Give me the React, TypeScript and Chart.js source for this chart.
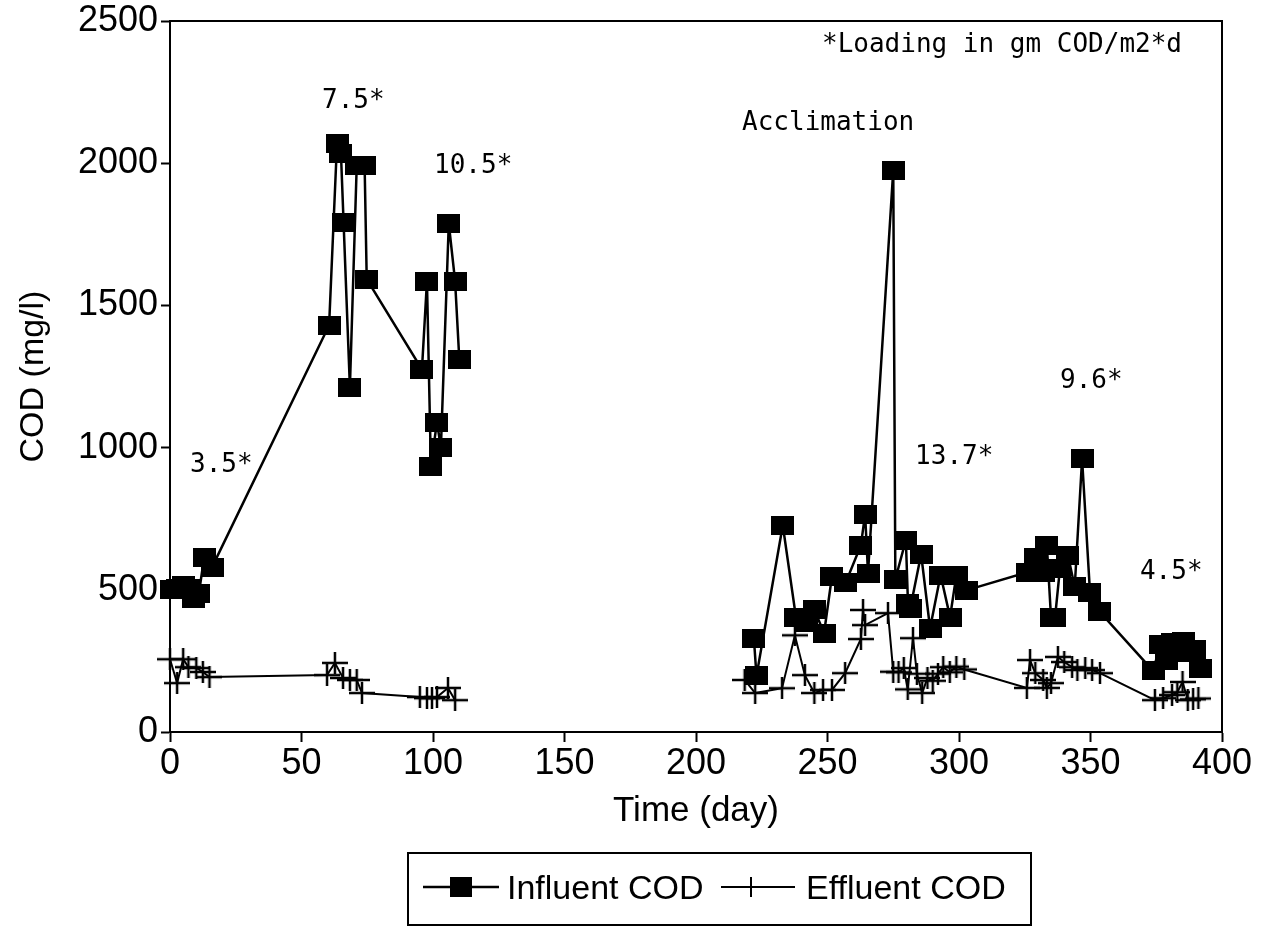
import React, { useEffect, useRef } from 'react';
import { Chart, registerables } from 'chart.js';

Chart.register(...registerables);

// Influent COD (mg/l) by operating day
const influentDays = [
  0.5, 3, 5, 7.5, 9, 11, 13, 16,
  60.5, 63.5, 65, 66, 68.4, 71, 74, 74.8,
  95.8, 97.7, 99.2, 101.5, 103, 106, 108.4, 110,
  222, 223, 233, 238, 242, 245, 248.7, 251.7, 257, 262.7, 264.3, 265.4,
  275, 275.8, 279.8, 280.6, 281.5, 285.6, 289, 293, 296.6, 299, 303,
  326, 329, 332, 333.4, 335, 336.5, 338.4, 341.4, 344, 346.8, 349.8, 353.6,
  373.8, 376.5, 379, 381, 383, 385.5, 387.5, 389.5, 392,
];
const influentCod = [
  500, 505, 515, 505, 470, 488, 615, 580,
  1430, 2070, 2034, 1792, 1212, 1992, 1992, 1592,
  1275, 1585, 935, 1090, 1000, 1788, 1585, 1311,
  330, 197, 727, 404, 386, 429, 348, 548, 527, 657, 766, 559,
  1975, 537, 675, 453, 436, 625, 365, 552, 404, 552, 499,
  562, 615, 562, 657, 401, 401, 576, 622, 510, 960, 492, 422,
  215, 306, 250, 315, 300, 318, 278, 290, 225,
];

// Effluent COD (mg/l) by operating day
const effluentDays = [
  0, 2.7, 5, 7, 10, 12.5, 15,
  59.7, 62.7, 65.8, 68.4, 71, 73,
  95, 97.7, 99.6, 101.5, 105.7, 108.4,
  218.5, 222.5, 232.7, 237.6, 241.4, 245, 248.3, 251.7, 256.7, 262.7, 263.5, 264.3,
  273, 275, 277, 279, 280.5, 282.5, 284, 286, 288, 290, 292, 294, 296.5, 299, 302,
  325.8, 327, 329, 332, 333.4, 335, 337.6, 340, 343, 345, 348, 350.6, 353.6,
  374.5, 377.6, 381, 383, 385, 387, 389, 391,
];
const effluentCod = [
  256, 172, 256, 228, 225, 211, 193,
  200, 243, 190, 183, 183, 137,
  123, 119, 119, 123, 155, 112,
  183, 137, 154, 340, 200, 137, 148, 148, 207, 327, 429, 376,
  418, 212, 210, 225, 150, 330, 205, 137, 190, 180, 205, 228, 210, 230, 220,
  155, 253, 207, 183, 155, 172, 264, 246, 228, 218, 225, 218, 207,
  112, 119, 130, 140, 176, 112, 115, 118,
];

// Organic loading notes, anchored at (day, COD) for the left edge of each text
const noteTexts = ['3.5*', '7.5*', '10.5*', 'Acclimation', '13.7*', '9.6*', '4.5*', '*Loading in gm COD/m2*d'];
const noteDays = [7.6, 57.8, 100.4, 217.5, 283.3, 338.4, 368.8, 247.9];
const noteCods = [938, 2217, 1989, 2140, 966, 1233, 562, 2414];

const seriesNames = ['Influent COD', 'Effluent COD'];
const axisTitles = { x: 'Time (day)', y: 'COD (mg/l)' };

// Sampling pauses longer than this (days) are left unconnected
const MAX_LINKED_GAP = 80;

const SANS = '"Liberation Sans", Arial, Helvetica, sans-serif';
const MONO = '"DejaVu Sans Mono", monospace';

function makeSquareMarker(): HTMLCanvasElement {
  const c = document.createElement('canvas');
  c.width = 23;
  c.height = 19;
  const ctx = c.getContext('2d')!;
  ctx.fillStyle = '#000';
  ctx.fillRect(0, 0, 23, 19);
  return c;
}

function makeCrossMarker(): HTMLCanvasElement {
  const c = document.createElement('canvas');
  c.width = 26;
  c.height = 22;
  const ctx = c.getContext('2d')!;
  ctx.strokeStyle = '#000';
  ctx.lineWidth = 2.5;
  ctx.beginPath();
  ctx.moveTo(0, 11);
  ctx.lineTo(26, 11);
  ctx.moveTo(13, 0);
  ctx.lineTo(13, 22);
  ctx.stroke();
  return c;
}

const gapSegment = {
  borderColor: (ctx: any) => (ctx.p1.parsed.x - ctx.p0.parsed.x > MAX_LINKED_GAP ? 'rgba(0,0,0,0)' : '#000'),
};

const framePlugin = {
  id: 'plotFrame',
  afterDraw(chart: any) {
    const { ctx, chartArea } = chart;
    ctx.save();
    ctx.strokeStyle = '#000';
    ctx.lineWidth = 2;
    ctx.strokeRect(chartArea.left, chartArea.top, chartArea.right - chartArea.left, chartArea.bottom - chartArea.top);
    ctx.restore();
  },
};

const notesPlugin = {
  id: 'loadingNotes',
  afterDatasetsDraw(chart: any) {
    const { ctx } = chart;
    const xs = chart.scales.x;
    const ys = chart.scales.y;
    ctx.save();
    ctx.fillStyle = '#000';
    ctx.font = `26px ${MONO}`;
    ctx.textAlign = 'left';
    ctx.textBaseline = 'middle';
    noteTexts.forEach((t, i) => {
      ctx.fillText(t, xs.getPixelForValue(noteDays[i]), ys.getPixelForValue(noteCods[i]));
    });
    ctx.restore();
  },
};

export default function App() {
  const canvasRef = useRef<HTMLCanvasElement | null>(null);

  useEffect(() => {
    const canvas = canvasRef.current;
    if (!canvas) return;
    const square = makeSquareMarker();
    const cross = makeCrossMarker();

    const chart = new Chart(canvas, {
      type: 'scatter',
      data: {
        datasets: [
          {
            label: seriesNames[0],
            data: influentDays.map((d, i) => ({ x: d, y: influentCod[i] })),
            showLine: true,
            borderColor: '#000',
            borderWidth: 2.5,
            backgroundColor: '#000',
            pointStyle: square as any,
            pointRadius: 11,
            clip: false as any,
            order: 1,
            segment: gapSegment,
          },
          {
            label: seriesNames[1],
            data: effluentDays.map((d, i) => ({ x: d, y: effluentCod[i] })),
            showLine: true,
            borderColor: '#000',
            borderWidth: 2,
            backgroundColor: '#000',
            pointStyle: cross as any,
            pointRadius: 11,
            clip: false as any,
            order: 0,
            segment: gapSegment,
          },
        ],
      },
      options: {
        responsive: false,
        devicePixelRatio: 1,
        animation: false,
        layout: { padding: { left: 0, top: 20, right: 40, bottom: 99 } },
        plugins: {
          legend: { display: false },
          tooltip: { enabled: false },
        },
        scales: {
          x: {
            type: 'linear',
            min: 0,
            max: 400,
            afterFit: (scale: any) => {
              scale.height = 100;
            },
            ticks: {
              stepSize: 50,
              color: '#000',
              padding: 0,
              font: { family: SANS, size: 36 },
              callback: (v: any) => String(v),
            },
            grid: {
              display: true,
              drawOnChartArea: false,
              drawTicks: true,
              tickLength: 10,
              tickColor: '#000',
              tickWidth: 2,
            },
            border: { display: true, color: '#000', width: 2 },
            title: {
              display: true,
              text: axisTitles.x,
              color: '#000',
              font: { family: SANS, size: 35 },
              padding: { top: 0, bottom: 0 },
            },
          },
          y: {
            type: 'linear',
            min: 0,
            max: 2500,
            afterFit: (scale: any) => {
              scale.width = 170;
            },
            ticks: {
              stepSize: 500,
              color: '#000',
              padding: 3,
              font: { family: SANS, size: 36, lineHeight: 1 },
              callback: (v: any) => String(v),
            },
            grid: {
              display: true,
              drawOnChartArea: false,
              drawTicks: true,
              tickLength: 9,
              tickColor: '#000',
              tickWidth: 2,
            },
            border: { display: true, color: '#000', width: 2 },
            title: {
              display: true,
              text: axisTitles.y,
              color: '#000',
              font: { family: SANS, size: 34 },
              padding: { top: 13, bottom: 0 },
            },
          },
        },
      },
      plugins: [framePlugin, notesPlugin],
    } as any);

    return () => {
      chart.destroy();
    };
  }, []);

  return (
    <div style={{ position: 'fixed', left: 0, top: 0, width: 1262, height: 931, background: '#fff' }}>
      <canvas ref={canvasRef} width={1262} height={931} style={{ display: 'block', width: 1262, height: 931 }} />
      <div
        style={{
          position: 'absolute',
          left: 407,
          top: 852,
          width: 625,
          height: 74,
          border: '2px solid #000',
          boxSizing: 'border-box',
          fontFamily: SANS,
          fontSize: 34,
          lineHeight: '34px',
          color: '#000',
        }}
      >
        <svg width={76} height={30} style={{ position: 'absolute', left: 14, top: 18 }}>
          <line x1={0} y1={15} x2={76} y2={15} stroke="#000" strokeWidth={2.5} />
          <rect x={27} y={5} width={22} height={20} fill="#000" />
        </svg>
        <span style={{ position: 'absolute', left: 98, top: 16, whiteSpace: 'nowrap' }}>{seriesNames[0]}</span>
        <svg width={74} height={30} style={{ position: 'absolute', left: 312, top: 18 }}>
          <line x1={0} y1={15} x2={74} y2={15} stroke="#000" strokeWidth={2} />
          <line x1={30} y1={5} x2={30} y2={25} stroke="#000" strokeWidth={2} />
        </svg>
        <span style={{ position: 'absolute', left: 397, top: 16, whiteSpace: 'nowrap' }}>{seriesNames[1]}</span>
      </div>
    </div>
  );
}
